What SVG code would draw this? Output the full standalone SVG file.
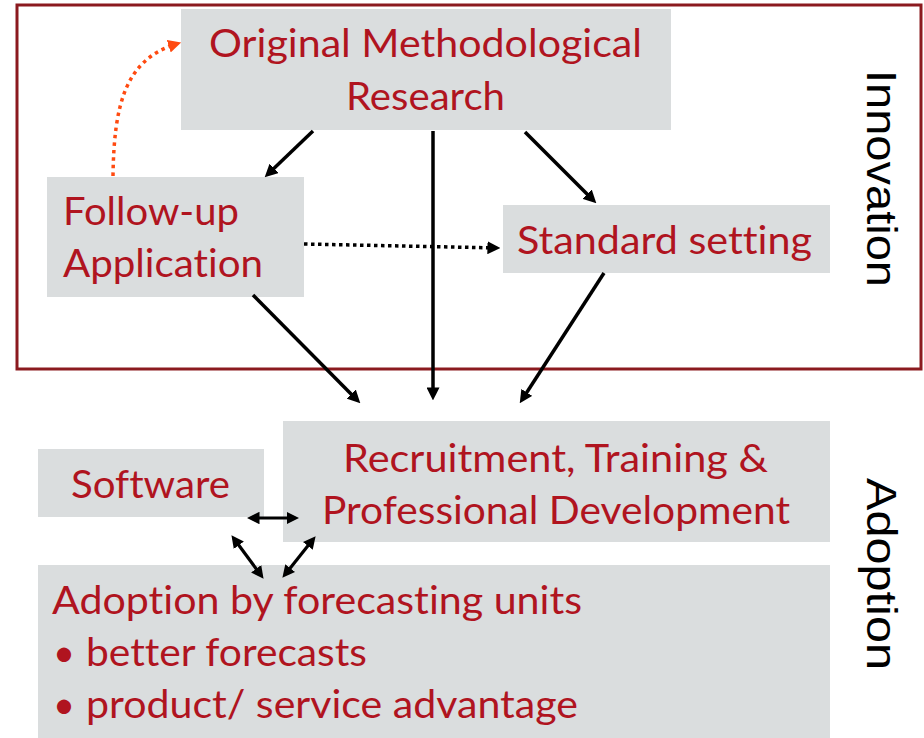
<svg xmlns="http://www.w3.org/2000/svg" width="924" height="738" viewBox="0 0 924 738">
  <style>
    .box { fill: #DADDDE; }
    .lbl { font-family: Lato, "Open Sans", "Liberation Sans", sans-serif; font-size: 38px; fill: #B0141F; font-variant-ligatures: none; }
    .side { font-family: "Liberation Sans", Arial, sans-serif; font-size: 43px; fill: #000; }
    .frame { fill: none; stroke: #8B1A1F; stroke-width: 3; }
    .arr { fill: none; stroke: #000; stroke-width: 3.5; }
    .dot { stroke-dasharray: 3.5 3.5; }
    .dbl { stroke-width: 3.2; }
    .fb { fill: none; stroke: #FF4A10; stroke-width: 3.5; stroke-dasharray: 3.5 4; }
  </style>
  <defs>
    <marker id="head" viewBox="0 0 12 12" markerUnits="userSpaceOnUse" markerWidth="13" markerHeight="13" refX="7" refY="6" orient="auto-start-reverse">
      <path d="M0,0 L12,6 L0,12 z" fill="#000"/>
    </marker>
    <marker id="headS" viewBox="0 0 10 10" markerUnits="userSpaceOnUse" markerWidth="12.5" markerHeight="12.5" refX="6" refY="5" orient="auto-start-reverse">
      <path d="M0,0 L10,5 L0,10 z" fill="#000"/>
    </marker>
    <marker id="headO" viewBox="0 0 12 12" markerUnits="userSpaceOnUse" markerWidth="13" markerHeight="13" refX="7" refY="6" orient="auto">
      <path d="M0,0 L12,6 L0,12 z" fill="#FF4A10"/>
    </marker>
  </defs>

  <!-- innovation frame -->
  <rect class="frame" x="17" y="5" width="904" height="364"/>

  <!-- side labels -->
  <text class="side" x="867" y="70" transform="rotate(90 867 70)" textLength="217" lengthAdjust="spacingAndGlyphs">Innovation</text>
  <text class="side" x="867" y="478" transform="rotate(90 867 478)" textLength="192" lengthAdjust="spacingAndGlyphs">Adoption</text>

  <g id="original-research">
    <rect class="box" x="181" y="9" width="490" height="121"/>
    <text class="lbl" x="209" y="57" textLength="433" lengthAdjust="spacingAndGlyphs">Original Methodological</text>
    <text class="lbl" x="346" y="110" textLength="159" lengthAdjust="spacingAndGlyphs">Research</text>
  </g>

  <g id="follow-up">
    <rect class="box" x="47" y="177" width="257" height="120"/>
    <text class="lbl" x="63" y="225" textLength="176" lengthAdjust="spacingAndGlyphs">Follow-up</text>
    <text class="lbl" x="63" y="277" textLength="200" lengthAdjust="spacingAndGlyphs">Application</text>
  </g>

  <g id="standard-setting">
    <rect class="box" x="503" y="205" width="327" height="68"/>
    <text class="lbl" x="517" y="254" textLength="295" lengthAdjust="spacingAndGlyphs">Standard setting</text>
  </g>

  <g id="recruitment">
    <rect class="box" x="283" y="421" width="547" height="121"/>
    <text class="lbl" x="343" y="472" textLength="425" lengthAdjust="spacingAndGlyphs">Recruitment, Training &amp;</text>
    <text class="lbl" x="322" y="524" textLength="468" lengthAdjust="spacingAndGlyphs">Professional Development</text>
  </g>

  <g id="software">
    <rect class="box" x="38" y="449" width="226" height="68"/>
    <text class="lbl" x="71" y="498" textLength="159" lengthAdjust="spacingAndGlyphs">Software</text>
  </g>

  <g id="adoption">
    <rect class="box" x="38" y="565" width="792" height="173"/>
    <text class="lbl" x="52" y="614" textLength="530" lengthAdjust="spacingAndGlyphs">Adoption by forecasting units</text>
    <text class="lbl" y="666"><tspan x="53">•</tspan><tspan x="86" textLength="281" lengthAdjust="spacingAndGlyphs">better forecasts</tspan></text>
    <text class="lbl" y="718"><tspan x="53">•</tspan><tspan x="86" textLength="492" lengthAdjust="spacingAndGlyphs">product/ service advantage</tspan></text>
  </g>

  <g id="connectors">
    <line class="arr" x1="313" y1="131" x2="268.6" y2="173.5" marker-end="url(#head)"/>
    <line class="arr" x1="433" y1="131" x2="433" y2="395" marker-end="url(#head)"/>
    <line class="arr" x1="525" y1="132" x2="592.5" y2="199.5" marker-end="url(#head)"/>
    <line class="arr" x1="253" y1="295" x2="356.5" y2="399.4" marker-end="url(#head)"/>
    <line class="arr" x1="604" y1="273" x2="522.7" y2="398.8" marker-end="url(#head)"/>
    <line class="arr dot" x1="304" y1="244" x2="495" y2="247.9" marker-end="url(#head)"/>
    <path class="fb" d="M113,176 C114,105 125,60 176,44" marker-end="url(#headO)"/>
    <line class="arr dbl" x1="252" y1="518" x2="294" y2="518" marker-start="url(#headS)" marker-end="url(#headS)"/>
    <line class="arr dbl" x1="234.4" y1="539.2" x2="260.6" y2="574.8" marker-start="url(#headS)" marker-end="url(#headS)"/>
    <line class="arr dbl" x1="312.5" y1="540.1" x2="285.5" y2="573.9" marker-start="url(#headS)" marker-end="url(#headS)"/>
  </g>
</svg>
